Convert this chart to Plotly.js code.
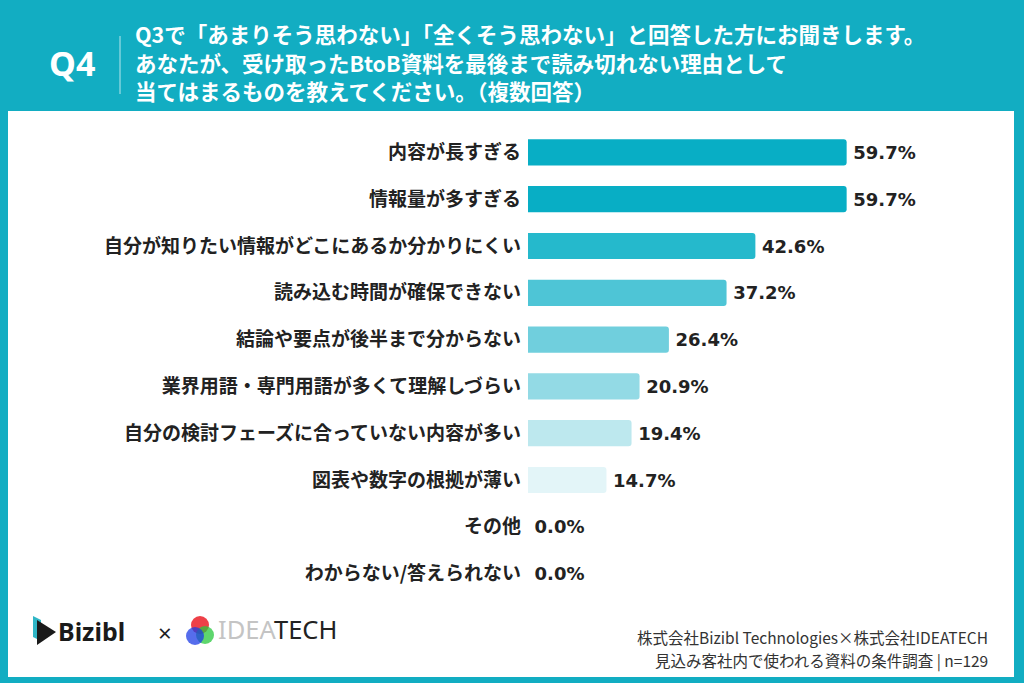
<!DOCTYPE html>
<html><head><meta charset="utf-8">
<script src="https://cdn.plot.ly/plotly-3.0.1.min.js"></script>
<style>html,body{margin:0;padding:0;background:#fff}#chart{width:1024px;height:683px}</style>
</head><body><div id="chart"></div>
<script>
const categories = [
  "内容が長すぎる",
  "情報量が多すぎる",
  "自分が知りたい情報がどこにあるか分かりにくい",
  "読み込む時間が確保できない",
  "結論や要点が後半まで分からない",
  "業界用語・専門用語が多くて理解しづらい",
  "自分の検討フェーズに合っていない内容が多い",
  "図表や数字の根拠が薄い",
  "その他",
  "わからない/答えられない"
];
const values = [59.7, 59.7, 42.6, 37.2, 26.4, 20.9, 19.4, 14.7, 0.0, 0.0];
const barColors = ["#08aec5","#08aec5","#25b9cc","#4ec5d6","#70cfdd","#93dae5","#bde8ee","#e3f5f8","#e3f5f8","#e3f5f8"];
const titleLines = [
  "Q3で「あまりそう思わない」「全くそう思わない」と回答した方にお聞きします。",
  "あなたが、受け取ったBtoB資料を最後まで読み切れない理由として",
  "当てはまるものを教えてください。（複数回答）"
];
const sourceLines = [
  "株式会社Bizibl Technologies×株式会社IDEATECH",
  "見込み客社内で使われる資料の条件調査 | n=129"
];

const W = 1024, H = 683;
const M = {l: 528, r: 69, t: 129, b: 86};
const PW = W - M.l - M.r, PH = H - M.t - M.b;
const px = x => (x - M.l) / PW;
const py = y => (H - M.b - y) / PH;
const TEAL = "#12adc2";
const JP = "Noto Sans CJK JP";

const trace = {
  type: "bar", orientation: "h",
  y: categories, x: values,
  marker: {color: barColors, line: {width: 0}},
  texttemplate: "\u2009%{x:.1f}%", textposition: "outside",
  textfont: {family: "DejaVu Sans", size: 18, color: "#222", weight: "bold"},
  cliponaxis: false, hoverinfo: "skip"
};

const shapes = [
  {type: "rect", xref: "paper", yref: "paper", x0: px(8), x1: px(1014), y0: py(111), y1: py(677),
   fillcolor: "#ffffff", line: {width: 0}, layer: "below"},
  {type: "line", xref: "paper", yref: "paper", x0: px(120), x1: px(120), y0: py(36), y1: py(94),
   line: {color: "rgba(255,255,255,0.7)", width: 1}},
  // Bizibl icon
  {type: "path", xref: "paper", yref: "paper",
   path: `M ${px(33)},${py(616)} L ${px(41)},${py(620)} L ${px(41)},${py(641)} L ${px(33)},${py(637)} Z`,
   fillcolor: "#2fb6c6", line: {width: 0}},
  {type: "path", xref: "paper", yref: "paper",
   path: `M ${px(37)},${py(620)} L ${px(56)},${py(632)} L ${px(37)},${py(645)} Z`,
   fillcolor: "#1a1a1a", line: {width: 0}},
  // IDEATECH circles
  {type: "circle", xref: "paper", yref: "paper", x0: px(191), x1: px(209), y0: py(616), y1: py(634),
   fillcolor: "rgba(235,30,40,0.85)", line: {width: 0}},
  {type: "circle", xref: "paper", yref: "paper", x0: px(196), x1: px(214), y0: py(626), y1: py(644),
   fillcolor: "rgba(40,200,60,0.75)", line: {width: 0}},
  {type: "circle", xref: "paper", yref: "paper", x0: px(186), x1: px(204), y0: py(627), y1: py(645),
   fillcolor: "rgba(30,60,230,0.75)", line: {width: 0}}
];

const annotations = [];
const ann = (x, y, text, font, xanchor) => annotations.push({
  xref: "paper", yref: "paper", x: px(x), y: py(y), text: text, showarrow: false,
  xanchor: xanchor || "left", yanchor: "middle", font: font
});
ann(72, 63, "Q4", {family: "Noto Sans", size: 34, color: "#fff", weight: "bold"}, "center");
const lineY = [33, 62, 90];
titleLines.forEach((t, i) => ann(133, lineY[i], t, {family: JP, size: 21.5, color: "#fff", weight: "bold"}));
ann(990, 637, sourceLines[0], {family: JP, size: 15.5, color: "#333"}, "right");
ann(990, 660, sourceLines[1], {family: JP, size: 15.5, color: "#333"}, "right");
ann(56, 631, "Bizibl", {family: "Noto Sans", size: 25, color: "#1a1a1a", weight: "bold"});
ann(165, 632, "×", {family: "Noto Sans", size: 24, color: "#222"}, "center");
ann(216, 629, "<span style='color:#c4c4c4'>IDEA</span>TECH", {family: "Noto Sans", size: 25.5, color: "#222"});

const layout = {
  width: W, height: H,
  margin: M,
  paper_bgcolor: TEAL, plot_bgcolor: "rgba(0,0,0,0)",
  showlegend: false,
  bargap: 0.44,
  barcornerradius: 3,
  xaxis: {range: [0, 80], visible: false, fixedrange: true},
  yaxis: {autorange: "reversed", showgrid: false, zeroline: false, showline: false, ticks: "",
          ticklabelstandoff: 6,
          tickfont: {family: JP, size: 19, color: "#222", weight: "bold"}, fixedrange: true},
  shapes: shapes,
  annotations: annotations
};
Plotly.newPlot("chart", [trace], layout, {displayModeBar: false, staticPlot: true});
</script></body></html>
